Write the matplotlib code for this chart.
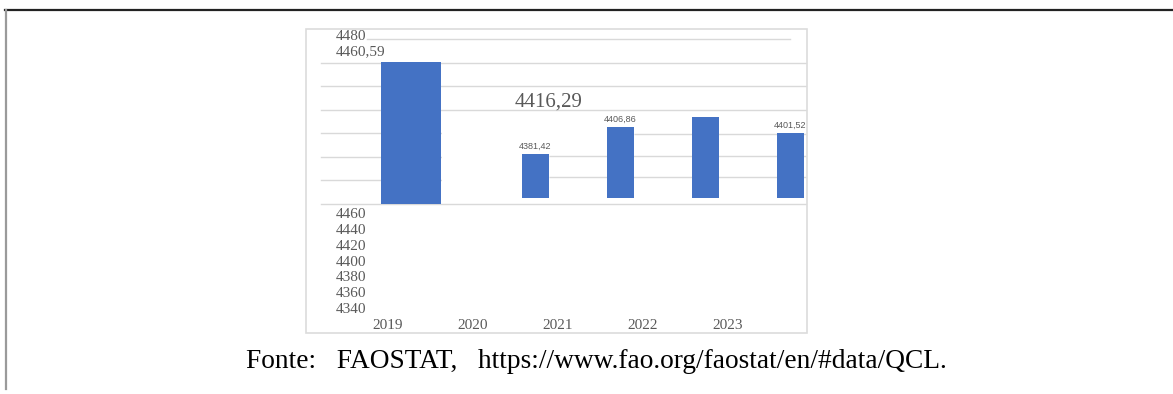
import matplotlib
matplotlib.use('Agg')
import matplotlib.pyplot as plt
import matplotlib.transforms as mtransforms
from matplotlib.patches import Rectangle
from matplotlib.lines import Line2D
import numpy as np

years = ['2019', '2020', '2021', '2022', '2023']
values = [4460.59, 4381.42, 4406.86, 4416.29, 4401.52]
grid_ticks = [4340, 4360, 4380, 4400, 4420, 4440, 4460, 4480]
axis_ticks = [4340, 4360, 4380, 4400, 4420, 4440, 4460]
source = 'Fonte:   FAOSTAT,   https://www.fao.org/faostat/en/#data/QCL.'

W, H = 1173, 394
BLUE = '#4472C4'
GRID = '#d9d9d9'
TXT = '#595959'
SERIF = ['Liberation Serif', 'DejaVu Serif']
SANS = ['Liberation Sans', 'DejaVu Sans']
STEP = 85.0  # pixels between category slots
FS = 11


def box(x0, y0, x1, y1):
    # pixel box measured from the top-left corner -> figure fraction rect
    return [x0 / W, 1 - y1 / H, (x1 - x0) / W, (y1 - y0) / H]


def fmt(v):
    return f'{v:.2f}'.replace('.', ',')


def bare(a):
    for s in a.spines.values():
        s.set_visible(False)
    a.set_xticks([])
    a.set_yticks([])


fig = plt.figure(figsize=(W / 100, H / 100), dpi=100)

# page rules
fig.add_artist(Line2D([5 / W, 1], [1 - 10 / H] * 2, color='#222222', lw=1.6))
fig.add_artist(Line2D([6 / W] * 2, [1 - 10 / H, 1 - 389 / H], color='#9a9a9a', lw=1.6))

# chart panel
px0, py0, pw, ph = box(306, 29, 807, 333)
fig.add_artist(Rectangle((px0, py0), pw, ph, transform=fig.transFigure,
                         fill=False, ec='#dcdcdc', lw=1.2))

# main axes: grid + 2019 bar
ax = fig.add_axes(box(320, 39, 808, 204))
bare(ax)
ax.patch.set_alpha(0)
ax.set_xlim((320 - 411) / STEP, (808 - 411) / STEP)
ax.set_ylim(grid_ticks[0], grid_ticks[-1])
for t in grid_ticks:
    if t == grid_ticks[-1]:
        ax.axhline(t, 47 / 488, 470 / 488, color=GRID, lw=1, zorder=0, clip_on=False)
    else:
        ax.axhline(t, 0.002, 0.996, color=GRID, lw=1, zorder=0, clip_on=False)
ax.bar(0, values[0] - grid_ticks[0], bottom=grid_ticks[0], width=60 / STEP,
       color=BLUE, zorder=2)

lab = mtransforms.blended_transform_factory(ax.transAxes, ax.transData)
ax.text(16 / 488, grid_ticks[-1], str(grid_ticks[-1]),
        transform=mtransforms.offset_copy(lab, fig=fig, y=3, units='dots'),
        ha='left', va='center', fontsize=FS, family=SERIF, color=TXT)
ax.text(16 / 488, values[0], fmt(values[0]),
        transform=mtransforms.offset_copy(lab, fig=fig, y=10, units='dots'),
        ha='left', va='center', fontsize=FS, family=SERIF, color=TXT)

# inset of the remaining years, on its own scale
sax = fig.add_axes(box(442, 113, 808, 198))
bare(sax)
sax.set_facecolor('white')
sax.set_xlim((442 - 535.5) / STEP, (808 - 535.5) / STEP)
sax.set_ylim(4340, 4340 + 85 / 1.06)
bw = 27 / STEP
right = (806 - 535.5) / STEP
sax.hlines([4360, 4380], bw / 2, right, color=GRID, lw=1, zorder=0)
sax.hlines([4400], 1 + bw / 2, right, color=GRID, lw=1, zorder=0)
pos = np.arange(len(values) - 1)
small = np.array(values[1:])
sax.bar(pos, small - 4340, bottom=4340, width=bw, color=BLUE, zorder=2)
for i, v in zip(pos, small):
    if i == 2:
        sax.text(bw / 2, 4430.6, fmt(v), ha='center', va='center', fontsize=15,
                 family=SERIF, color=TXT, clip_on=False)
    else:
        sax.annotate(fmt(v), (i, v), xytext=(0, 2.5), textcoords='offset points',
                     ha='center', va='bottom', fontsize=6.5, family=SANS,
                     color=TXT, annotation_clip=False)

# value axis and year labels below the chart
tax = fig.add_axes(box(320, 213, 808, 308))
for s in tax.spines.values():
    s.set_visible(False)
tax.patch.set_alpha(0)
tax.set_xlim((320 - 411) / STEP, (808 - 411) / STEP)
tax.set_ylim(axis_ticks[0], axis_ticks[-1])
tax.set_yticks(axis_ticks)
tax.set_yticklabels([str(t) for t in axis_ticks])
tax.set_xticks(np.arange(len(years)) - 23 / STEP)
tax.set_xticklabels(years)
tax.tick_params(axis='y', length=0, pad=-11.5, labelsize=FS, labelcolor=TXT)
tax.tick_params(axis='x', length=0, pad=8, labelsize=FS, labelcolor=TXT)
for t in tax.get_yticklabels():
    t.set_ha('left')
    t.set_family(SERIF)
for t in tax.get_xticklabels():
    t.set_family(SERIF)

fig.text(596 / W, 1 - 362 / H, source, ha='center', va='center',
         fontsize=19.7, family=SERIF, color='black')

fig.savefig('out.png', dpi=100)
